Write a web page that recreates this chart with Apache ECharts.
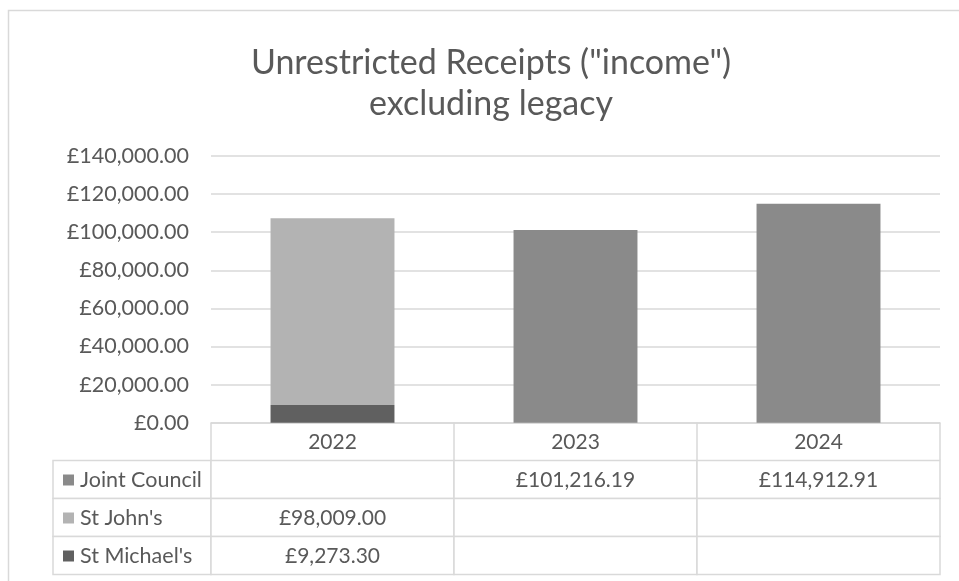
<!DOCTYPE html>
<html>
<head>
<meta charset="utf-8">
<script src="https://cdn.jsdelivr.net/npm/echarts@6/dist/echarts.min.js"></script>
<style>
html,body{margin:0;padding:0;background:#fff;}
#c{width:959px;height:581px;}
</style>
</head>
<body>
<div id="c"></div>
<script>
const categories = ['2022', '2023', '2024'];
const tableRows = ['Joint Council', "St John's", "St Michael's"];
const jointCouncil = [null, 101216.19, 114912.91];
const stJohns = [98009.00, null, null];
const stMichaels = [9273.30, null, null];
const yMin = 0, yMax = 140000, yStep = 20000;

const colors = { 'Joint Council': '#8a8a8a', "St John's": '#b3b3b3', "St Michael's": '#606060' };
const valuesByRow = { 'Joint Council': jointCouncil, "St John's": stJohns, "St Michael's": stMichaels };

const FONT = 'Lato, "Open Sans", sans-serif';
const TXT = '#595959';
const LINE = '#d9d9d9';

function gbp(v) {
  const neg = v < 0; v = Math.abs(v);
  const fixed = v.toFixed(2);
  let [i, d] = fixed.split('.');
  i = i.replace(/\B(?=(\d{3})+(?!\d))/g, ',');
  return (neg ? '-' : '') + '£' + i + '.' + d;
}

// table cells: [column (-1 = legend column), row index, text, seriesName]
const tableData = [];
tableRows.forEach((name, r) => {
  tableData.push([-1, r, name, name]);
  valuesByRow[name].forEach((v, c) => {
    tableData.push([c, r, v == null ? '' : gbp(v), name]);
  });
});

const LEG_MIN = -158 / 243;

const chart = echarts.init(document.getElementById('c'), null, { renderer: 'canvas' });
chart.setOption({
  animation: false,
  backgroundColor: '#fff',
  textStyle: { fontFamily: FONT },
  title: {
    text: 'Unrestricted Receipts ("income")\nexcluding legacy',
    left: 491, top: 43, textAlign: 'center', padding: 0,
    textStyle: { fontFamily: FONT, fontSize: 34, fontWeight: 'normal', color: TXT, lineHeight: 41 }
  },
  graphic: [{
    type: 'rect', silent: true, z: -1,
    shape: { x: 8.5, y: 10.5, width: 1200, height: 1200 },
    style: { fill: 'none', stroke: LINE, lineWidth: 1.5 }
  }],
  grid: [
    { left: 211, right: 19, top: 156, height: 266.7, containLabel: false },
    { left: 53, right: 19, top: 460.5, height: 114, containLabel: false }
  ],
  xAxis: [
    {
      type: 'category', gridIndex: 0, data: categories,
      axisLine: { show: true, lineStyle: { color: LINE, width: 1.5 } },
      axisTick: { show: true, length: 37.5, lineStyle: { color: LINE, width: 1.5 } },
      axisLabel: { fontFamily: FONT, fontSize: 21, color: TXT, margin: 9 }
    },
    { type: 'value', gridIndex: 1, min: LEG_MIN, max: 3, show: false }
  ],
  yAxis: [
    {
      type: 'value', gridIndex: 0, min: yMin, max: yMax, interval: yStep,
      axisLine: { show: false }, axisTick: { show: false },
      splitLine: { lineStyle: { color: LINE, width: 1.5 } },
      axisLabel: { fontFamily: FONT, fontSize: 21.5, color: TXT, margin: 22, formatter: v => gbp(v) }
    },
    { type: 'category', gridIndex: 1, data: tableRows, inverse: true, show: false }
  ],
  series: [
    { name: "St Michael's", type: 'bar', stack: 's', data: stMichaels, barWidth: '51%',
      itemStyle: { color: colors["St Michael's"] }, xAxisIndex: 0, yAxisIndex: 0 },
    { name: "St John's", type: 'bar', stack: 's', data: stJohns, barWidth: '51%',
      itemStyle: { color: colors["St John's"] }, xAxisIndex: 0, yAxisIndex: 0 },
    { name: 'Joint Council', type: 'bar', stack: 's', data: jointCouncil, barWidth: '51%',
      itemStyle: { color: colors['Joint Council'] }, xAxisIndex: 0, yAxisIndex: 0 },
    {
      type: 'custom', xAxisIndex: 1, yAxisIndex: 1, data: tableData, silent: true,
      renderItem: function (params, api) {
        const col = api.value(0), row = api.value(1);
        const item = tableData[params.dataIndex];
        const x0 = col < 0 ? LEG_MIN : col;
        const x1 = col < 0 ? 0 : col + 1;
        const p0 = api.coord([x0, row]);
        const p1 = api.coord([x1, row]);
        const h = api.size([0, 1])[1];
        const top = p0[1] - h / 2;
        const children = [{
          type: 'rect',
          shape: { x: p0[0], y: top, width: p1[0] - p0[0], height: h },
          style: { fill: '#fff', stroke: LINE, lineWidth: 1.5 }
        }];
        if (col < 0) {
          children.push({
            type: 'rect',
            shape: { x: p0[0] + 10, y: p0[1] - 5, width: 11, height: 11 },
            style: { fill: colors[item[3]] }
          });
          children.push({
            type: 'text',
            style: { x: p0[0] + 27, y: p0[1] + 1, text: item[2], fill: TXT,
              font: '21.5px ' + FONT, textAlign: 'left', textVerticalAlign: 'middle' }
          });
        } else {
          children.push({
            type: 'text',
            style: { x: (p0[0] + p1[0]) / 2, y: p0[1] + 1, text: item[2], fill: TXT,
              font: '21px ' + FONT, textAlign: 'center', textVerticalAlign: 'middle' }
          });
        }
        return { type: 'group', children: children };
      }
    }
  ]
});
</script>
</body>
</html>
